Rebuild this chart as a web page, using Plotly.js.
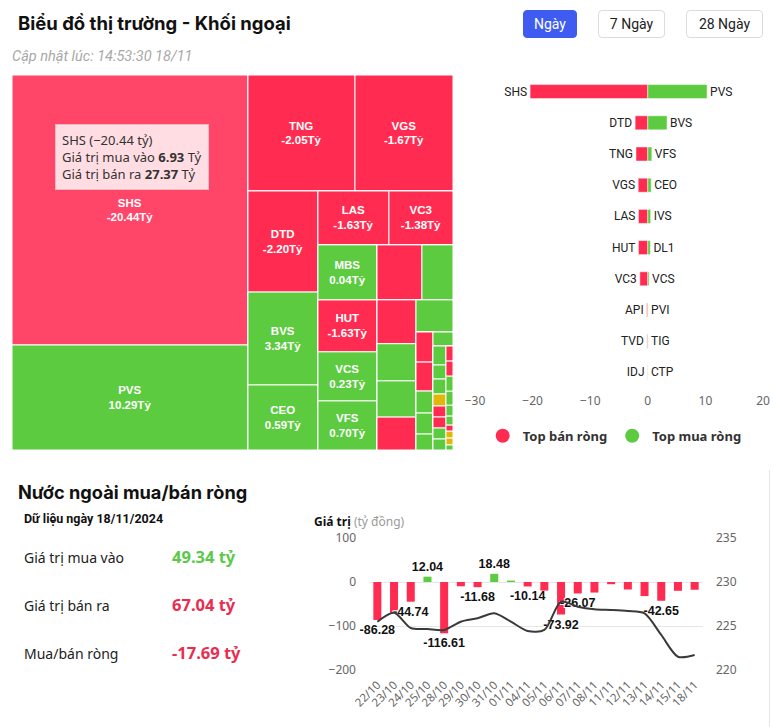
<!DOCTYPE html>
<html>
<head>
<meta charset="utf-8">
<script src="https://cdn.plot.ly/plotly-3.0.1.min.js"></script>
<style>
  html,body{margin:0;padding:0;background:#fff;}
  body{width:774px;height:727px;overflow:hidden;position:relative;font-family:Roboto,"Noto Sans",sans-serif;color:#222;}
  .abs{position:absolute;white-space:nowrap;}
  .title{left:18px;top:12px;font-size:18.5px;font-weight:700;color:#111;font-family:Inter,Roboto,sans-serif;}
  .btn{position:absolute;top:10px;height:26px;line-height:26px;border:1px solid #dcdcdc;border-radius:4px;font-size:14px;text-align:center;color:#222;background:#fff;}
  .btn.on{background:#3e5cf0;border-color:#3e5cf0;color:#fff;}
  .sub{left:12px;top:48px;font-size:14.5px;font-style:italic;color:#a8a8a8;}
  .h2{left:18px;top:481px;font-size:18.2px;font-weight:700;color:#111;font-family:Inter,Roboto,sans-serif;}
  .date{left:24px;top:511px;font-size:12.5px;font-weight:700;color:#111;}
  .lbl{left:24px;font-size:14px;color:#222;font-family:"Noto Sans",sans-serif;}
  .val{left:172px;font-size:16.5px;font-weight:700;font-family:"Noto Sans",sans-serif;}
  .gt{left:314px;top:513px;font-size:12px;font-family:"Noto Sans",sans-serif;}
  #tm{left:12px;top:75px;width:441px;height:375px;}
  #bf{left:440px;top:75px;width:334px;height:380px;}
  #nf{left:300px;top:505px;width:474px;height:222px;}
</style>
</head>
<body>
<div class="abs title" id="ttl">Biểu đồ thị trường - Khối ngoại</div>
<div class="btn on" style="left:523px;width:52px;">Ngày</div>
<div class="btn" style="left:598px;width:65px;">7 Ngày</div>
<div class="btn" style="left:686px;width:75px;">28 Ngày</div>
<div class="abs sub">Cập nhật lúc: 14:53:30 18/11</div>

<div class="abs" id="tm"></div>
<div class="abs" id="bf"></div>

<div class="abs h2" id="h2">Nước ngoài mua/bán ròng</div>
<div class="abs date">Dữ liệu ngày 18/11/2024</div>
<div class="abs lbl" style="top:548px;">Giá trị mua vào</div>
<div class="abs val" style="top:545px;color:#5cc84a;">49.34 tỷ</div>
<div class="abs lbl" style="top:596px;">Giá trị bán ra</div>
<div class="abs val" style="top:593px;color:#ea2c4f;">67.04 tỷ</div>
<div class="abs lbl" style="top:644px;">Mua/bán ròng</div>
<div class="abs val" style="top:641px;color:#ea2c4f;">-17.69 tỷ</div>
<div class="abs gt"><b style="color:#111">Giá trị</b> <span style="color:#9a9a9a">(tỷ đồng)</span></div>
<div class="abs" id="nf"></div>
<div class="abs" style="left:769px;top:470px;width:1px;height:257px;background:#e6e6e6;"></div>

<script>
// ================= DATA =================
// Treemap: total traded value (size) and net foreign flow (net), tỷ đồng
const tmNames = ['SHS','PVS','TNG','VGS','DTD','BVS','CEO','LAS','VC3','MBS','HUT','VCS','VFS',
  'API','IVS','TVD','DL1','PVI','IDJ','TIG','NVB','PVC','CTP','PLC','HHC','IDC',
  'BCC','VNR','SLS','DHT','PVB','NTP','L14','TAR',
  'KSV','HLD','PSD','VMC','NBC','SCI','DXP','APS','PGS','DDG'];
const tmSize = [34.30,13.34,6.68,6.12,3.81,3.50,2.45,2.06,1.86,1.75,1.65,1.56,1.56,
  1.33,0.92,0.92,0.78,0.76,0.69,0.64,0.275,0.265,0.201,0.192,0.146,0.151,
  0.133,0.098,0.105,0.084,0.077,0.077,0.077,0.077,
  0.057,0.057,0.057,0.053,0.041,0.034,0.023,0.026,0.026,0.019];
const tmNet = [-20.44,10.29,-2.05,-1.67,-2.20,3.34,0.59,-1.63,-1.38,0.04,-1.63,0.23,0.70,
  -0.20,0.50,-0.15,0.45,0.05,-0.05,0.05,-0.12,-0.10,0.03,0.05,0.02,0.02,
  0.02,0.01,0.01,0,-0.02,-0.01,0.01,0.01,
  -0.01,-0.01,0.01,0.01,0.01,0.01,-0.01,0,0,0.01];
const tmHover = 'SHS';
const tmTipBuy = 6.93, tmTipSell = 27.37;

// Top net sell / net buy
const sellNames = ['SHS','DTD','TNG','VGS','LAS','HUT','VC3','API','TVD','IDJ'];
const sellValues = [-20.44,-2.20,-2.05,-1.67,-1.63,-1.63,-1.38,-0.20,-0.15,-0.05];
const buyNames = ['PVS','BVS','VFS','CEO','IVS','DL1','VCS','PVI','TIG','CTP'];
const buyValues = [10.29,3.34,0.70,0.59,0.50,0.45,0.23,0.05,0.05,0.03];

// Daily net foreign flow and index
const dates = ['22/10','23/10','24/10','25/10','28/10','29/10','30/10','31/10','01/11','04/11',
  '05/11','06/11','07/11','08/11','11/11','12/11','13/11','14/11','15/11','18/11'];
const netFlow = [-86.28,-69.5,-44.74,12.04,-116.61,-9.8,-11.68,18.48,3.2,-10.14,
  -19.5,-73.92,-26.07,-24.0,-5.0,-17.0,-32.0,-42.65,-20.0,-17.69];
const indexValue = [225.49,226.51,224.77,224.66,224.55,225.49,225.87,226.44,225.49,224.43,
  224.55,227.76,227.19,226.90,226.82,226.70,226.44,223.98,221.51,221.70];
const labelShown = [1,0,1,1,1,0,1,1,0,1,0,1,1,0,0,0,0,1,0,0];

// ================= STYLE =================
const RED = '#ff2b50', GREEN = '#5ccb3f', YELLOW = '#e2b60a', HOVERRED = '#ff4568';
const cfg = {displayModeBar:false, staticPlot:true};

// Treemap tiling structure (guillotine cuts)
const tmTree = [['SHS','PVS'],
  [['TNG','VGS'],
   [['DTD','BVS','CEO'],
    [['LAS','VC3'],
     [['MBS','HUT','VCS','VFS'],
      [['API','IVS'],
       [['TVD','DL1','PVI','IDJ'],
        ['TIG',
         [['NVB','PVC','CTP','PLC','HHC'],
          ['IDC',
           [['BCC','VNR','SLS','DHT','PVB','NTP','L14','TAR'],
            ['KSV','HLD','PSD','VMC','NBC','SCI','DXP','APS','PGS','DDG']]]]]]]]]]]];

const ids=[], labels=[], parents=[], values=[], colors=[], texts=[];
let gc = 0;
function addNode(node, parent){
  if (typeof node === 'string'){
    const i = tmNames.indexOf(node);
    const net = tmNet[i];
    ids.push(node); labels.push(node); parents.push(parent); values.push(tmSize[i]);
    let c = net < 0 ? RED : (net > 0 ? GREEN : YELLOW);
    if (node === tmHover) c = HOVERRED;
    colors.push(c);
    texts.push(tmSize[i] > 1.5 ? node + '<br>' + net.toFixed(2) + 'Tỷ' : '');
  } else {
    const id = 'grp' + (gc++);
    ids.push(id); labels.push(id); parents.push(parent); values.push(0);
    colors.push('#ffffff'); texts.push('');
    node.forEach(ch => addNode(ch, id));
  }
}
addNode(tmTree, '');

Plotly.newPlot('tm', [{
  type:'treemap', ids:ids, labels:labels, parents:parents, values:values,
  branchvalues:'remainder', sort:false,
  text:texts, textinfo:'text', textposition:'middle center',
  textfont:{family:'Liberation Sans, Arial, sans-serif', size:11.5, color:'#ffffff', weight:'bold'},
  marker:{colors:colors, line:{color:'#ffffff', width:1}, pad:{t:0,l:0,r:0,b:0}, depthfade:false},
  leaf:{opacity:1},
  tiling:{packing:'slice-dice', pad:0},
  pathbar:{visible:false},
  hoverinfo:'skip'
}], {
  width:441, height:375, margin:{l:0,r:0,t:0,b:0},
  paper_bgcolor:'rgba(0,0,0,0)',
  annotations:[{
    xref:'paper', yref:'paper', x:0.271, y:0.78, xanchor:'center', yanchor:'middle',
    showarrow:false, align:'left',
    text: tmHover + ' (−' + Math.abs(tmNet[0]).toFixed(2) + ' tỷ)<br>Giá trị mua vào <b>' + tmTipBuy.toFixed(2) +
          '</b> Tỷ<br>Giá trị bán ra <b>' + tmTipSell.toFixed(2) + '</b> Tỷ',
    font:{family:'Noto Sans, sans-serif', size:13, color:'#333'},
    bgcolor:'rgba(255,226,231,0.97)', bordercolor:'#e9b9c2', borderwidth:1, borderpad:6
  }]
}, cfg);

// Butterfly chart
const rows = sellNames.map((n,i)=> n + '/' + buyNames[i]);
Plotly.newPlot('bf', [
  {type:'bar', orientation:'h', y:rows, x:sellValues, text:sellNames, textposition:'outside',
   cliponaxis:false, constraintext:'none', textangle:0, width:0.45,
   marker:{color:RED, line:{color:'#fff', width:0.5}},
   textfont:{family:'Roboto, sans-serif', size:12, color:'#222'}, showlegend:false, hoverinfo:'skip'},
  {type:'bar', orientation:'h', y:rows, x:buyValues, text:buyNames, textposition:'outside',
   cliponaxis:false, constraintext:'none', textangle:0, width:0.45,
   marker:{color:GREEN, line:{color:'#fff', width:0.5}},
   textfont:{family:'Roboto, sans-serif', size:12, color:'#222'}, showlegend:false, hoverinfo:'skip'},
  {type:'scatter', mode:'markers', x:[null], y:[null], name:'Top bán ròng', marker:{color:RED, size:14}, hoverinfo:'skip'},
  {type:'scatter', mode:'markers', x:[null], y:[null], name:'Top mua ròng', marker:{color:GREEN, size:14}, hoverinfo:'skip'}
], {
  width:334, height:380, margin:{l:35, r:11, t:1.4, b:66.6},
  paper_bgcolor:'rgba(0,0,0,0)', plot_bgcolor:'rgba(0,0,0,0)',
  barmode:'relative',
  xaxis:{range:[-30,20], tickvals:[-30,-20,-10,0,10,20], showgrid:false, zeroline:false, showline:false,
         ticks:'', ticklabelstandoff:4, tickfont:{family:'Noto Sans, sans-serif', size:12, color:'#666'}},
  yaxis:{type:'category', autorange:'reversed', showticklabels:false, showgrid:false, zeroline:false, ticks:''},
  legend:{orientation:'h', x:0.485, xanchor:'center', y:-0.153, yanchor:'middle',
          font:{family:'Noto Sans, sans-serif', size:13, color:'#333', weight:'bold'}, itemclick:false}
}, cfg);

// Net flow + index chart
Plotly.newPlot('nf', [
  {type:'bar', x:dates, y:netFlow,
   marker:{color:netFlow.map(v => v < 0 ? RED : GREEN)},
   text:netFlow.map((v,i)=> labelShown[i] ? v.toFixed(2) : ''), textposition:'outside',
   cliponaxis:false, constraintext:'none', textangle:0,
   textfont:{family:'Liberation Sans, Arial, sans-serif', size:12.5, color:'#111', weight:'bold',
             shadow:'1px 1px 0 #fff, -1px -1px 0 #fff, 1px -1px 0 #fff, -1px 1px 0 #fff'},
   hoverinfo:'skip', showlegend:false},
  {type:'scatter', mode:'lines', x:dates, y:indexValue, yaxis:'y2',
   line:{color:'#3a3a3a', width:2, shape:'spline', smoothing:0.8}, hoverinfo:'skip', showlegend:false}
], {
  width:474, height:222, margin:{l:69, r:71, t:33, b:57},
  paper_bgcolor:'rgba(0,0,0,0)', plot_bgcolor:'rgba(0,0,0,0)',
  bargap:0.52,
  xaxis:{type:'category', tickangle:-45, showgrid:false, zeroline:false, ticks:'', showline:false,
         ticklabelstandoff:5, tickfont:{family:'Noto Sans, sans-serif', size:11.5, color:'#666'}},
  yaxis:{range:[-200,100], tickvals:[-200,-100,0,100], gridcolor:'#e6e6e6', zeroline:false, ticks:'',
         ticklabelstandoff:12, tickfont:{family:'Noto Sans, sans-serif', size:12, color:'#666'}},
  yaxis2:{overlaying:'y', side:'right', range:[220,235], tickvals:[220,225,230,235], showgrid:false,
          zeroline:false, ticks:'', ticklabelstandoff:12,
          tickfont:{family:'Noto Sans, sans-serif', size:12, color:'#666'}}
}, cfg);
</script>
</body>
</html>
